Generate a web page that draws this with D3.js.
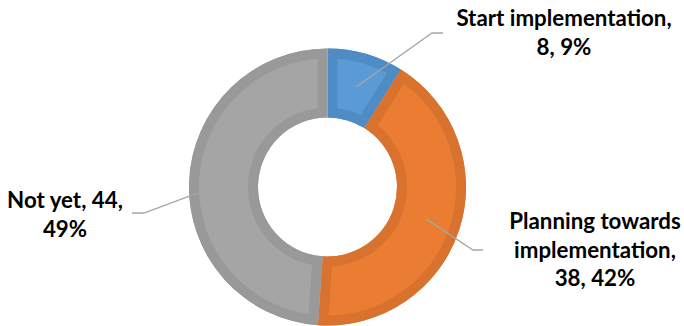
<!DOCTYPE html>
<html>
<head>
<meta charset="utf-8">
<script src="https://cdn.jsdelivr.net/npm/d3@7"></script>
<style>
  html, body { margin: 0; padding: 0; background: #fff; }
  svg { display: block; }
  .lbl { font-family: Lato, "Open Sans", sans-serif; font-weight: 700; font-size: 22.3px; fill: #000; }
</style>
</head>
<body>
<svg id="chart" width="684" height="326"></svg>
<script>
// Survey status counts
const categories = ["Start implementation", "Planning towards implementation", "Not yet"];
const values = [8, 38, 44];
const fills = ["#5B9BD5", "#EB7D33", "#A5A5A5"];
const bands = ["#4F8CC6", "#D8722E", "#999999"];

// Label wrapping and placement for each slice
const labelLines = [
  ["Start implementation,", "{v}, {p}"],
  ["Planning towards", "implementation,", "{v}, {p}"],
  ["Not yet, {v},", "{p}"]
];
const labelPos = [
  { x: 564, y: 26, elbow: [432, 33], end: [443, 33] },
  { x: 595, y: 229, elbow: [473, 250], end: [483, 250] },
  { x: 65, y: 208, elbow: [144, 213], end: [132, 213] }
];

const W = 684, H = 326;
const cx = 327.5, cy = 187, outerR = 138.5, innerR = 69.5, bandW = 10, lineH = 28.5;

const svg = d3.select("#chart");
const g = svg.append("g").attr("transform", `translate(${cx},${cy})`);

const total = d3.sum(values);
const pct = v => Math.round(v / total * 100) + "%";

const pie = d3.pie().sort(null).value(d => d)(values);
const arc = d3.arc().innerRadius(innerR).outerRadius(outerR);
const mid = d3.arc().innerRadius((innerR + outerR) / 2).outerRadius((innerR + outerR) / 2);

const defs = svg.append("defs");
pie.forEach((p, i) => {
  defs.append("clipPath").attr("id", "clip" + i)
    .append("path").attr("d", arc(p));
});

const slices = g.selectAll("g.slice").data(pie).join("g").attr("class", "slice");
slices.append("path")
  .attr("d", arc)
  .attr("fill", (d, i) => fills[i]);
// darker inset rim along every edge of the slice
slices.append("path")
  .attr("d", arc)
  .attr("fill", "none")
  .attr("stroke", (d, i) => bands[i])
  .attr("stroke-width", bandW * 2)
  .attr("stroke-linejoin", "miter")
  .attr("clip-path", (d, i) => `url(#clip${i})`);

// leader lines
pie.forEach((p, i) => {
  const c = mid.centroid(p);
  const lp = labelPos[i];
  svg.append("polyline")
    .attr("points", [[cx + c[0], cy + c[1]], lp.elbow, lp.end].map(q => q.join(",")).join(" "))
    .attr("fill", "none")
    .attr("stroke", "#A6A6A6")
    .attr("stroke-width", 1.3);
});

// data labels
pie.forEach((p, i) => {
  const lp = labelPos[i];
  const t = svg.append("text").attr("class", "lbl").attr("text-anchor", "middle");
  labelLines[i].forEach((ln, k) => {
    t.append("tspan")
      .attr("x", lp.x)
      .attr("y", lp.y + k * lineH)
      .text(ln.replace("{v}", values[i]).replace("{p}", pct(values[i])));
  });
});
</script>
</body>
</html>
